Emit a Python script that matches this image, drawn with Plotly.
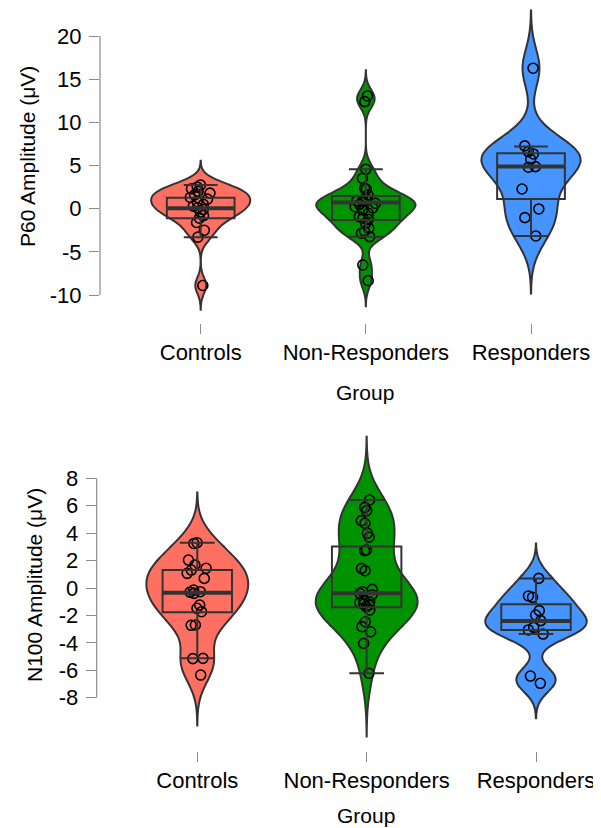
import numpy as np
import plotly.graph_objects as go

groups = ["Controls", "Non-Responders", "Responders"]
colors = ["#FF7062", "#009300", "#4694FF"]

# P60 amplitude (top panel)
p60_controls = [2.75, 2.5, 2.3, 2.0, 1.8, 1.6, 1.3, 1.1, 0.8, 0.5, 0.3, 0.1, -0.1, -0.4, -0.8, -1.1, -1.6, -2.5, -3.3, -8.9]
p60_nonresp = [13.06, 12.4, 4.56, 3.52, 2.36, 2.25, 1.59, 1.2, 1.0, 0.9, 0.81, 0.62, 0.5, 0.23, 0.1, -0.15, -0.53,
               -0.93, -1.1, -1.23, -1.69, -2.27, -2.6, -2.85, -3.24, -6.52, -8.34]
p60_resp = [16.27, 7.27, 6.61, 6.34, 5.72, 4.87, 4.8, 2.28, -0.03, -1.04, -3.16]

# N100 amplitude (bottom panel)
n100_controls = [3.3, 3.25, 2.04, 1.68, 1.44, 1.31, 1.07, 0.7, -0.15, -0.27, -0.39, -0.3, -1.24, -1.48, -1.73,
                 -2.7, -2.72, -5.13, -5.15, -6.35]
n100_nonresp = [6.42, 5.88, 5.64, 4.91, 4.72, 3.99, 3.70, 2.77, 2.72, 1.43, 1.26, -0.1, -0.27, -0.39, -0.5, -0.88,
                -1.0, -1.07, -1.17, -1.24, -1.36, -1.6, -2.46, -2.82, -3.19, -4.04, -6.22]
n100_resp = [0.7, -0.58, -0.68, -1.65, -1.97, -2.38, -2.87, -3.06, -3.36, -6.42, -6.95]

# Box statistics: [Controls, Non-Responders, Responders]
p60_q1 = [-1.1, -1.31, 1.12]
p60_median = [0.05, 0.7, 4.87]
p60_q3 = [1.27, 1.47, 6.42]
p60_low = [-3.3, -3.24, -3.16]
p60_high = [2.75, 4.56, 7.19]

n100_q1 = [-1.77, -1.41, -3.06]
n100_median = [-0.34, -0.39, -2.41]
n100_q3 = [1.31, 3.02, -1.19]
n100_low = [-5.13, -6.22, -3.36]
n100_high = [3.3, 6.42, 0.7]

p60_ticks = [-10, -5, 0, 5, 10, 15, 20]
n100_ticks = [-8, -6, -4, -2, 0, 2, 4, 6, 8]

# page body has an 8px margin, so the figure is sized to fill the rest of the window
OFF = 8
W, H = 601 - OFF, 828 - OFF
FONT = "Liberation Sans, Arial, sans-serif"
LINE = "#333333"
TICKC = "#8c8c8c"


def fx(px):
    return (px - OFF) / W


def fy(py):
    return 1 - (py - OFF) / H


fig = go.Figure()


def bw_nrd0(v):
    v = np.asarray(v, float)
    q75, q25 = np.percentile(v, [75, 25])
    return 0.9 * min(np.std(v, ddof=1), (q75 - q25) / 1.34) * len(v) ** -0.2


def add_panel(datasets, q1, med, q3, lo, hi, xa, ya):
    for i, (vals, col) in enumerate(zip(datasets, colors)):
        bw = bw_nrd0(vals)
        span = [min(vals) - 3 * bw, max(vals) + 3 * bw]
        fig.add_trace(go.Violin(
            x=[i] * len(vals), y=vals, xaxis=xa, yaxis=ya,
            width=0.6, bandwidth=bw, spanmode="manual", span=span,
            fillcolor=col, opacity=1, line=dict(color=LINE, width=2),
            points=False, box_visible=False, meanline_visible=False,
            showlegend=False, hoverinfo="skip"))
    for i in range(3):
        fig.add_trace(go.Box(
            x=[i], q1=[q1[i]], median=[med[i]], q3=[q3[i]],
            lowerfence=[lo[i]], upperfence=[hi[i]], xaxis=xa, yaxis=ya,
            width=0.41, whiskerwidth=0.5, fillcolor="rgba(0,0,0,0)",
            line=dict(color=LINE, width=2), boxpoints=False,
            showlegend=False, hoverinfo="skip"))
        fig.add_trace(go.Box(
            x=[i], q1=[med[i]], median=[med[i]], q3=[med[i]],
            lowerfence=[med[i]], upperfence=[med[i]], xaxis=xa, yaxis=ya,
            width=0.41, whiskerwidth=0, fillcolor="rgba(0,0,0,0)",
            line=dict(color=LINE, width=4), boxpoints=False,
            showlegend=False, hoverinfo="skip"))
    for i, vals in enumerate(datasets):
        bw = bw_nrd0(vals)
        span = [min(vals) - 3 * bw, max(vals) + 3 * bw]
        fig.add_trace(go.Violin(
            x=[i] * len(vals), y=vals, xaxis=xa, yaxis=ya,
            width=0.6, bandwidth=bw, spanmode="manual", span=span,
            fillcolor="rgba(0,0,0,0)", line=dict(color="rgba(0,0,0,0)", width=0),
            points="all", jitter=0.22, pointpos=0,
            marker=dict(symbol="circle-open", size=10, color="black",
                        line=dict(color="black", width=1.6)),
            showlegend=False, hoverinfo="skip"))


add_panel([p60_controls, p60_nonresp, p60_resp], p60_q1, p60_median, p60_q3, p60_low, p60_high, "x", "y")
add_panel([n100_controls, n100_nonresp, n100_resp], n100_q1, n100_median, n100_q3, n100_low, n100_high, "x2", "y2")

tickfont = dict(family=FONT, size=22, color="black")
common_x = dict(tickvals=[0, 1, 2], ticktext=groups, ticks="outside", ticklen=10, tickwidth=1,
                tickcolor=TICKC, showline=False, showgrid=False, zeroline=False,
                tickfont=tickfont, ticklabelstandoff=0, automargin=False)
common_y = dict(ticks="outside", ticklen=10, tickwidth=1, tickcolor=TICKC, showline=False,
                showgrid=False, zeroline=False, tickfont=tickfont, ticklabelstandoff=3, automargin=False)

# pixel mapping: top 20 -> 36px, -10 -> 295px ; bottom 8 -> 478.3px, -8 -> 697.7px
top_s = (295 - 36) / 30.0
bot_s = (697.7 - 478.3) / 16.0
fig.update_layout(
    width=W, height=H, margin=dict(l=0, r=0, t=0, b=0),
    paper_bgcolor="white", plot_bgcolor="white",
    violinmode="overlay", boxmode="overlay", showlegend=False,
    xaxis=dict(domain=[fx(100), fx(600)], range=[(100 - 200.7) / 165.15, (600 - 200.7) / 165.15],
               anchor="y", **common_x),
    yaxis=dict(domain=[fy(323), fy(9)], range=[20 - (323 - 36) / top_s, 20 + (36 - 9) / top_s], anchor="x",
               tickvals=p60_ticks, ticktext=[str(t) for t in p60_ticks], **common_y),
    xaxis2=dict(domain=[fx(96.7), fx(600)], range=[(96.7 - 197.3) / 169.35, (600 - 197.3) / 169.35],
                anchor="y2", **common_x),
    yaxis2=dict(domain=[fy(750.7), fy(430)], range=[8 - (750.7 - 478.3) / bot_s, 8 + (478.3 - 430) / bot_s],
                anchor="x2", tickvals=n100_ticks, ticktext=[str(t) for t in n100_ticks], **common_y),
)

# JASP-style axis lines spanning only the tick range
fig.add_shape(type="line", xref="x domain", yref="y", x0=0, x1=0, y0=min(p60_ticks), y1=max(p60_ticks),
              line=dict(color=TICKC, width=1.2))
fig.add_shape(type="line", xref="x2 domain", yref="y2", x0=0, x1=0, y0=min(n100_ticks), y1=max(n100_ticks),
              line=dict(color=TICKC, width=1.2))

titlefont = dict(family=FONT, size=21, color="black")
annos = [
    dict(text="P60 Amplitude (μV)", x=fx(28), y=fy(157), textangle=-90),
    dict(text="N100 Amplitude (μV)", x=fx(34), y=fy(585), textangle=-90),
    dict(text="Group", x=fx(365), y=fy(392)),
    dict(text="Group", x=fx(366), y=fy(815)),
]
for a in annos:
    fig.add_annotation(xref="paper", yref="paper", showarrow=False, xanchor="center",
                       yanchor="middle", font=titlefont, **a)

fig.write_html("out.html")
